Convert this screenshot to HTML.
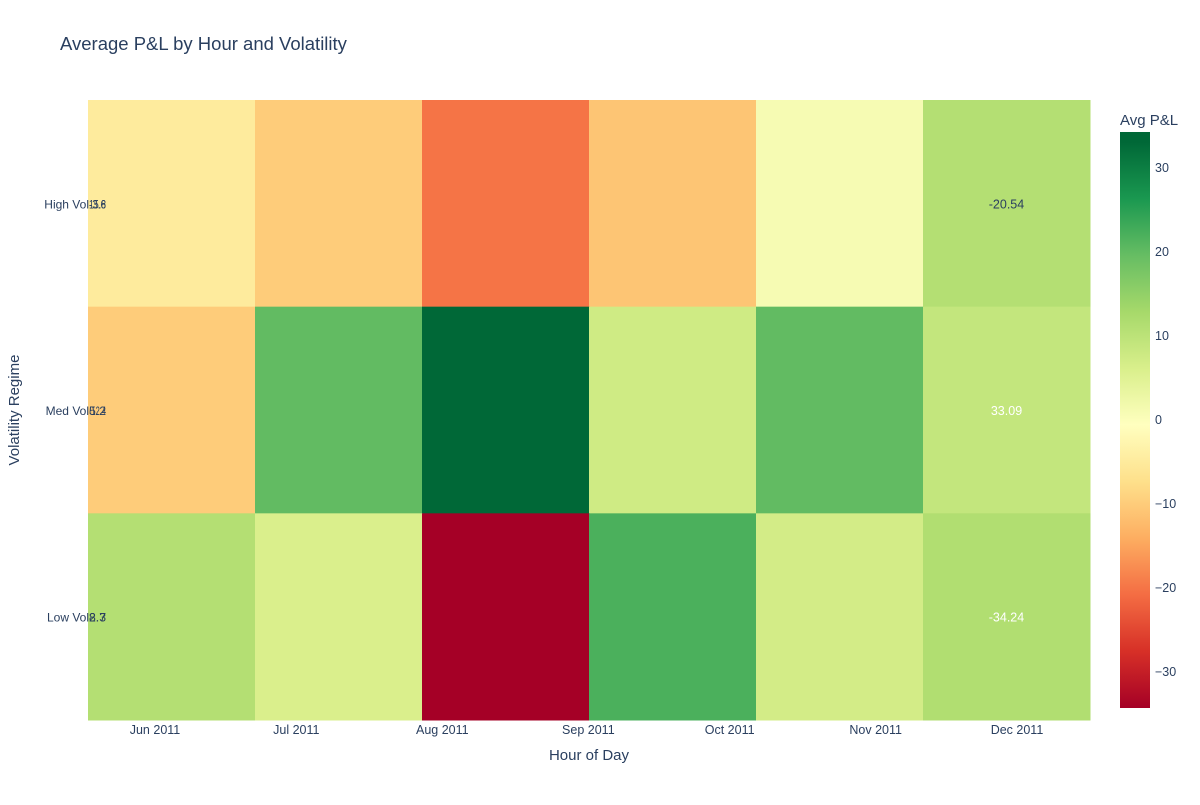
<!DOCTYPE html>
<html><head><meta charset="utf-8"><style>
body{margin:0;background:#fff;font-family:"Liberation Sans",sans-serif;}
svg text{font-family:"Liberation Sans",sans-serif;fill:#2a3f5f;}
</style></head><body>
<svg id="chart" width="1200" height="800">
<text x="60" y="50" font-size="18.5">Average P&amp;L by Hour and Volatility</text>
<g id="cells"></g><g id="labels"></g>
<text x="589" y="760" font-size="15" text-anchor="middle">Hour of Day</text>
<text transform="translate(19,410) rotate(-90)" font-size="15" text-anchor="middle">Volatility Regime</text>
<text x="1120" y="125" font-size="15">Avg P&amp;L</text>
<defs><linearGradient id="cg" x1="0" y1="1" x2="0" y2="0"></linearGradient></defs>
<rect x="1120" y="132" width="30" height="576" fill="url(#cg)"/>
<g id="cbticks"></g>
</svg>
<script>
const rows=["High Vol","Med Vol","Low Vol"];
const cols=6;
const zHigh=[-5,-10,-20,-11,1,11];
const zMed=[-10,20,33.09,7.5,20,9];
const zLow=[11,6,-34.24,22,7,11.5];
const annot=[["-20.54",0],["33.09",1],["-34.24",2]];
const leftText=[["-3.6","15.8"],["-12.4","5.2"],["8.3","2.7"]];
const months=["Jun 2011","Jul 2011","Aug 2011","Sep 2011","Oct 2011","Nov 2011","Dec 2011"];
const monthDays=[0,30,61,92,122,153,183];
const cbTicks=[30,20,10,0,-10,-20,-30];
const zmin=-34.24,zmax=33.09;
const cs=[[0,'rgb(165,0,38)'],[0.1,'rgb(215,48,39)'],[0.2,'rgb(244,109,67)'],[0.3,'rgb(253,174,97)'],[0.4,'rgb(254,224,139)'],[0.5,'rgb(255,255,191)'],[0.6,'rgb(217,239,139)'],[0.7,'rgb(166,217,106)'],[0.8,'rgb(102,189,99)'],[0.9,'rgb(26,152,80)'],[1,'rgb(0,104,55)']];
const NS="http://www.w3.org/2000/svg";
function col(v){let t=(v-zmin)/(zmax-zmin);t=Math.max(0,Math.min(1,t));
for(let i=1;i<cs.length;i++){if(t<=cs[i][0]){const a=cs[i-1],b=cs[i];const f=(t-a[0])/(b[0]-a[0]);
const pa=a[1].match(/\d+/g).map(Number),pb=b[1].match(/\d+/g).map(Number);
return `rgb(${pa.map((p,k)=>Math.round(p+(pb[k]-p)*f)).join(',')})`;}}return cs[cs.length-1][1];}
const X0=88,X1=1090,Y0=100,Y1=720;
const cw=(X1-X0)/cols,rh=(Y1-Y0)/rows.length;
const xDate=d=>155+d*(1017-155)/183;
const cbY=v=>420-v*8.4;
const data=[zHigh,zMed,zLow];
const g=document.getElementById('cells'),L=document.getElementById('labels');
data.forEach((r,ri)=>r.forEach((v,ci)=>{
const e=document.createElementNS(NS,'rect');
e.setAttribute('x',X0+ci*cw);e.setAttribute('y',Y0+ri*rh);e.setAttribute('width',cw+0.5);e.setAttribute('height',rh+0.5);e.setAttribute('fill',col(v));


g.appendChild(e);}));
rows.forEach((n,ri)=>{const y=Y0+ri*rh+rh/2+5;
const t=document.createElementNS(NS,'text');t.setAttribute('x',X0+1);t.setAttribute('y',y);t.setAttribute('font-size','12');t.setAttribute('text-anchor','end');t.textContent=n;


L.appendChild(t);
leftText[ri].forEach(s=>{const a=document.createElementNS(NS,'text');a.setAttribute('x',X0+1);a.setAttribute('y',y);a.setAttribute('font-size','12');a.setAttribute('textLength','17');a.setAttribute('lengthAdjust','spacingAndGlyphs');a.textContent=s;


L.appendChild(a);});});
annot.forEach(([s,ri])=>{const a=document.createElementNS(NS,'text');a.setAttribute('x',X0+5.5*cw);a.setAttribute('y',Y0+ri*rh+rh/2+5);a.setAttribute('font-size','12.5');a.setAttribute('text-anchor','middle');
a.style.fill=ri>0?'#fff':'#2a3f5f';a.textContent=s;


L.appendChild(a);});
months.forEach((m,i)=>{const t=document.createElementNS(NS,'text');t.setAttribute('x',xDate(monthDays[i]));t.setAttribute('y',734);t.setAttribute('font-size','12.5');t.setAttribute('text-anchor','middle');t.textContent=m;


L.appendChild(t);});
const gr=document.getElementById('cg');
const vTop=(420-132)/8.4,vBot=(420-708)/8.4;
cs.forEach(([o,c])=>{const s=document.createElementNS(NS,'stop');s.setAttribute('offset',(((zmin+o*(zmax-zmin))-vBot)/(vTop-vBot)));s.setAttribute('stop-color',c);gr.appendChild(s);});
const cb=document.getElementById('cbticks');
cbTicks.forEach(v=>{const t=document.createElementNS(NS,'text');t.setAttribute('x',1155);t.setAttribute('y',cbY(v)+4);t.setAttribute('font-size','12.5');t.textContent=v<0?'\u2212'+Math.abs(v):v;


cb.appendChild(t);});
</script>
</body></html>
